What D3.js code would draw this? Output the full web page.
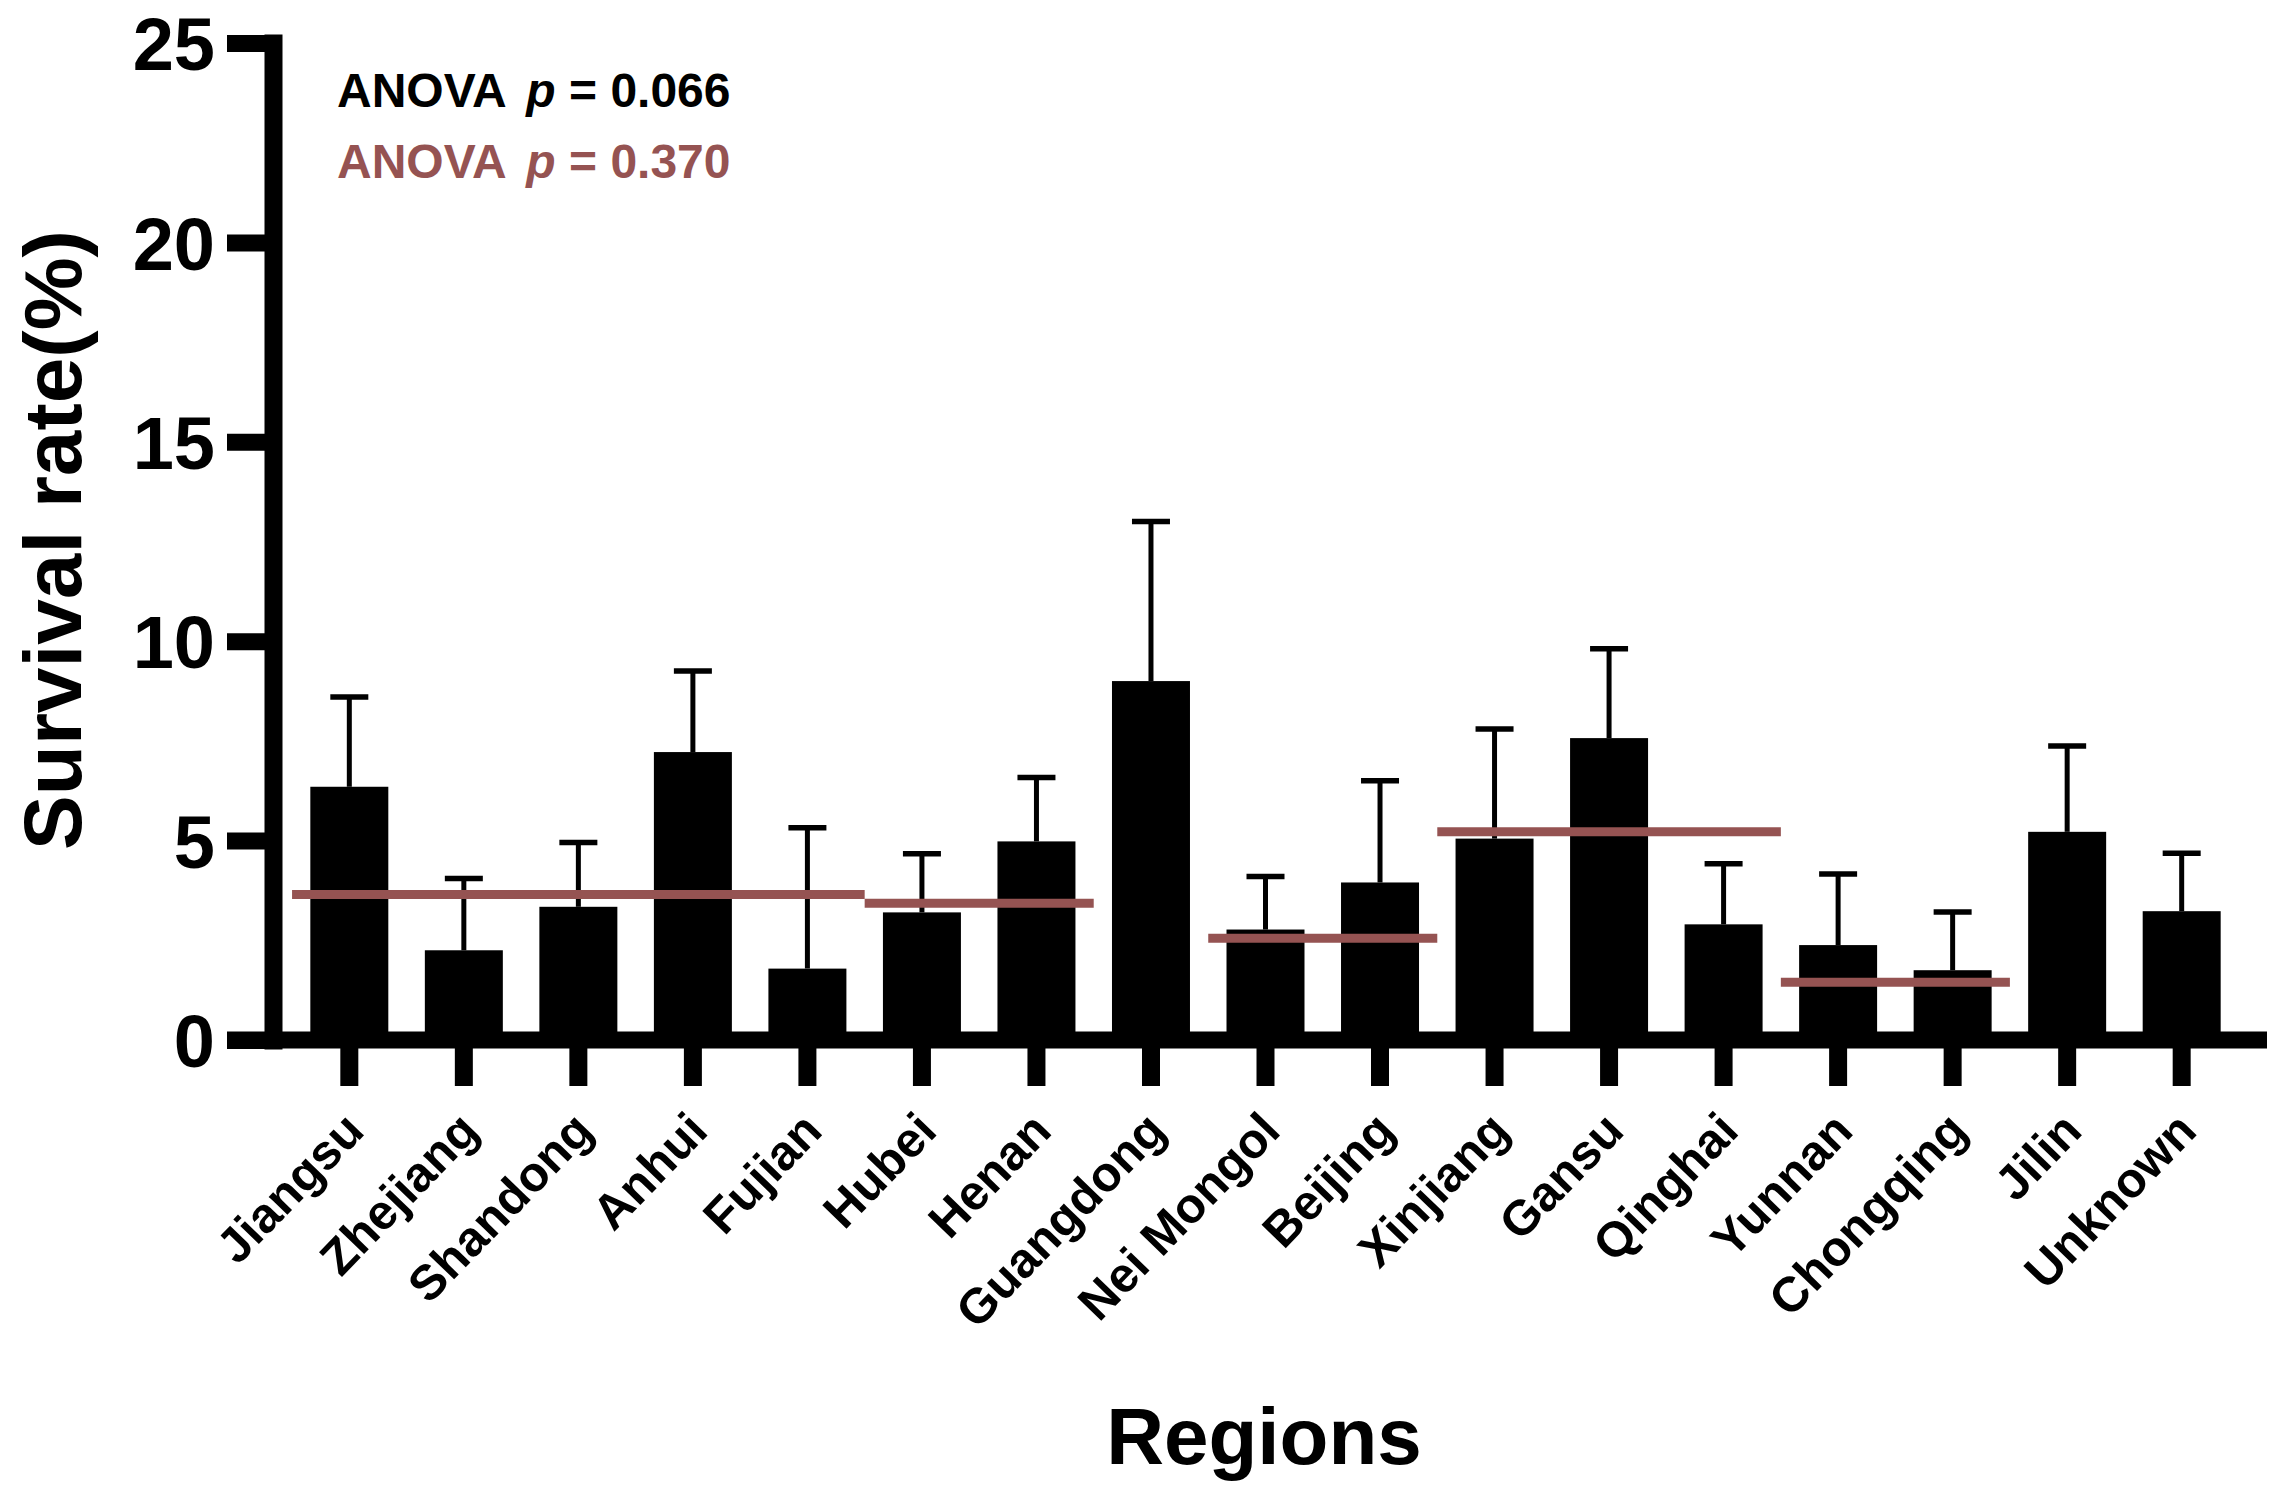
<!DOCTYPE html>
<html>
<head>
<meta charset="utf-8">
<script src="https://cdn.jsdelivr.net/npm/d3@7"></script>
<style>
body { margin: 0; background: #fff; }
text { font-family: "Liberation Sans", Arial, sans-serif; font-weight: bold; }
</style>
</head>
<body>
<svg id="chart" width="2280" height="1495"></svg>
<script>
// data
var regions = ["Jiangsu", "Zhejiang", "Shandong", "Anhui", "Fujian", "Hubei", "Henan", "Guangdong",
	"Nei Mongol", "Beijing", "Xinjiang", "Gansu", "Qinghai", "Yunnan", "Chongqing", "Jilin", "Unknown"];
var meanRate = [6.35, 2.25, 3.34, 7.22, 1.79, 3.20, 4.98, 9.00, 2.77, 3.95, 5.05, 7.57, 2.90, 2.38, 1.75, 5.22, 3.23];
var errRate = [2.25, 1.80, 1.61, 2.03, 3.53, 1.47, 1.60, 4.00, 1.33, 2.55, 2.75, 2.24, 1.52, 1.78, 1.46, 2.15, 1.45];

// group means (red lines)
var groupFrom = ["Jiangsu", "Hubei", "Nei Mongol", "Xinjiang", "Yunnan"];
var groupTo = ["Fujian", "Henan", "Beijing", "Qinghai", "Chongqing"];
var groupMean = [3.65, 3.43, 2.55, 5.22, 1.45];

var yTicks = [0, 5, 10, 15, 20, 25];
var anovaText = ["0.066", "0.370"];
var anovaColor = ["#000000", "#955352"];

var svg = d3.select("#chart");

var x = d3.scaleBand()
	.domain(regions)
	.range([292, 2239])
	.paddingInner(0.319)
	.paddingOuter(0.16);
var y = d3.scaleLinear().domain([0, 25]).range([1040, 43]);

var bw = x.bandwidth();
var gap = x.step() * x.paddingInner() / 2;

//bars
svg.append("g").selectAll("rect")
	.data(regions)
	.enter().append("rect")
	.attr("x", function(d){ return x(d); })
	.attr("y", function(d, i){ return y(meanRate[i]); })
	.attr("width", bw)
	.attr("height", function(d, i){ return y(0) - y(meanRate[i]); })
	.attr("fill", "#000");

//error bars (upper only)
var eb = svg.append("g").selectAll("g")
	.data(regions)
	.enter().append("g");
eb.append("line")
	.attr("x1", function(d){ return x(d) + bw / 2; })
	.attr("x2", function(d){ return x(d) + bw / 2; })
	.attr("y1", function(d, i){ return y(meanRate[i]); })
	.attr("y2", function(d, i){ return y(meanRate[i] + errRate[i]); })
	.attr("stroke", "#000")
	.attr("stroke-width", 5);
eb.append("line")
	.attr("x1", function(d){ return x(d) + bw / 2 - 19; })
	.attr("x2", function(d){ return x(d) + bw / 2 + 19; })
	.attr("y1", function(d, i){ return y(meanRate[i] + errRate[i]); })
	.attr("y2", function(d, i){ return y(meanRate[i] + errRate[i]); })
	.attr("stroke", "#000")
	.attr("stroke-width", 5.5);

//group mean lines
svg.append("g").selectAll("line")
	.data(groupMean)
	.enter().append("line")
	.attr("x1", function(d, i){ return x(groupFrom[i]) - gap; })
	.attr("x2", function(d, i){ return x(groupTo[i]) + bw + gap; })
	.attr("y1", function(d){ return y(d); })
	.attr("y2", function(d){ return y(d); })
	.attr("stroke", "#955352")
	.attr("stroke-width", 9);

//y axis
var yAxis = svg.append("g")
	.attr("transform", "translate(273,0)")
	.call(d3.axisLeft(y).tickValues(yTicks).tickSize(46).tickSizeOuter(0).tickPadding(12));
yAxis.select(".domain")
	.attr("stroke", "#000")
	.attr("stroke-width", 18)
	.attr("stroke-linecap", "square");
yAxis.selectAll(".tick line").attr("stroke", "#000").attr("stroke-width", 17);
yAxis.selectAll(".tick text")
	.attr("fill", "#000")
	.style("font-size", "74px")
	.attr("dy", "0.36em");

//x axis line
svg.append("line")
	.attr("x1", 227).attr("x2", 2267)
	.attr("y1", y(0)).attr("y2", y(0))
	.attr("stroke", "#000")
	.attr("stroke-width", 17);

var xAxis = svg.append("g")
	.attr("transform", "translate(0," + y(0) + ")")
	.call(d3.axisBottom(x).tickSize(46).tickSizeOuter(0));
xAxis.select(".domain").remove();
xAxis.selectAll(".tick line").attr("stroke", "#000").attr("stroke-width", 18);
xAxis.selectAll(".tick text")
	.attr("fill", "#000")
	.attr("x", 0).attr("y", 0).attr("dy", 0)
	.attr("transform", "translate(17,93) rotate(-46)")
	.style("text-anchor", "end")
	.style("font-size", "49px");

//axis titles
svg.append("text")
	.attr("transform", "translate(81,540) rotate(-90)")
	.attr("text-anchor", "middle")
	.style("font-size", "82px")
	.text("Survival rate(%)");
svg.append("text")
	.attr("x", 1264).attr("y", 1464)
	.attr("text-anchor", "middle")
	.style("font-size", "80px")
	.text("Regions");

//ANOVA notes
for (var i = 0; i < anovaText.length; i++) {
	var t = svg.append("text")
		.attr("x", 337)
		.attr("y", 107 + i * 71)
		.attr("fill", anovaColor[i])
		.style("font-size", "48px");
	t.append("tspan").text("ANOVA ");
	t.append("tspan").attr("dx", 8).style("font-style", "italic").text("p");
	t.append("tspan").text(" = " + anovaText[i]);
}
</script>
</body>
</html>
